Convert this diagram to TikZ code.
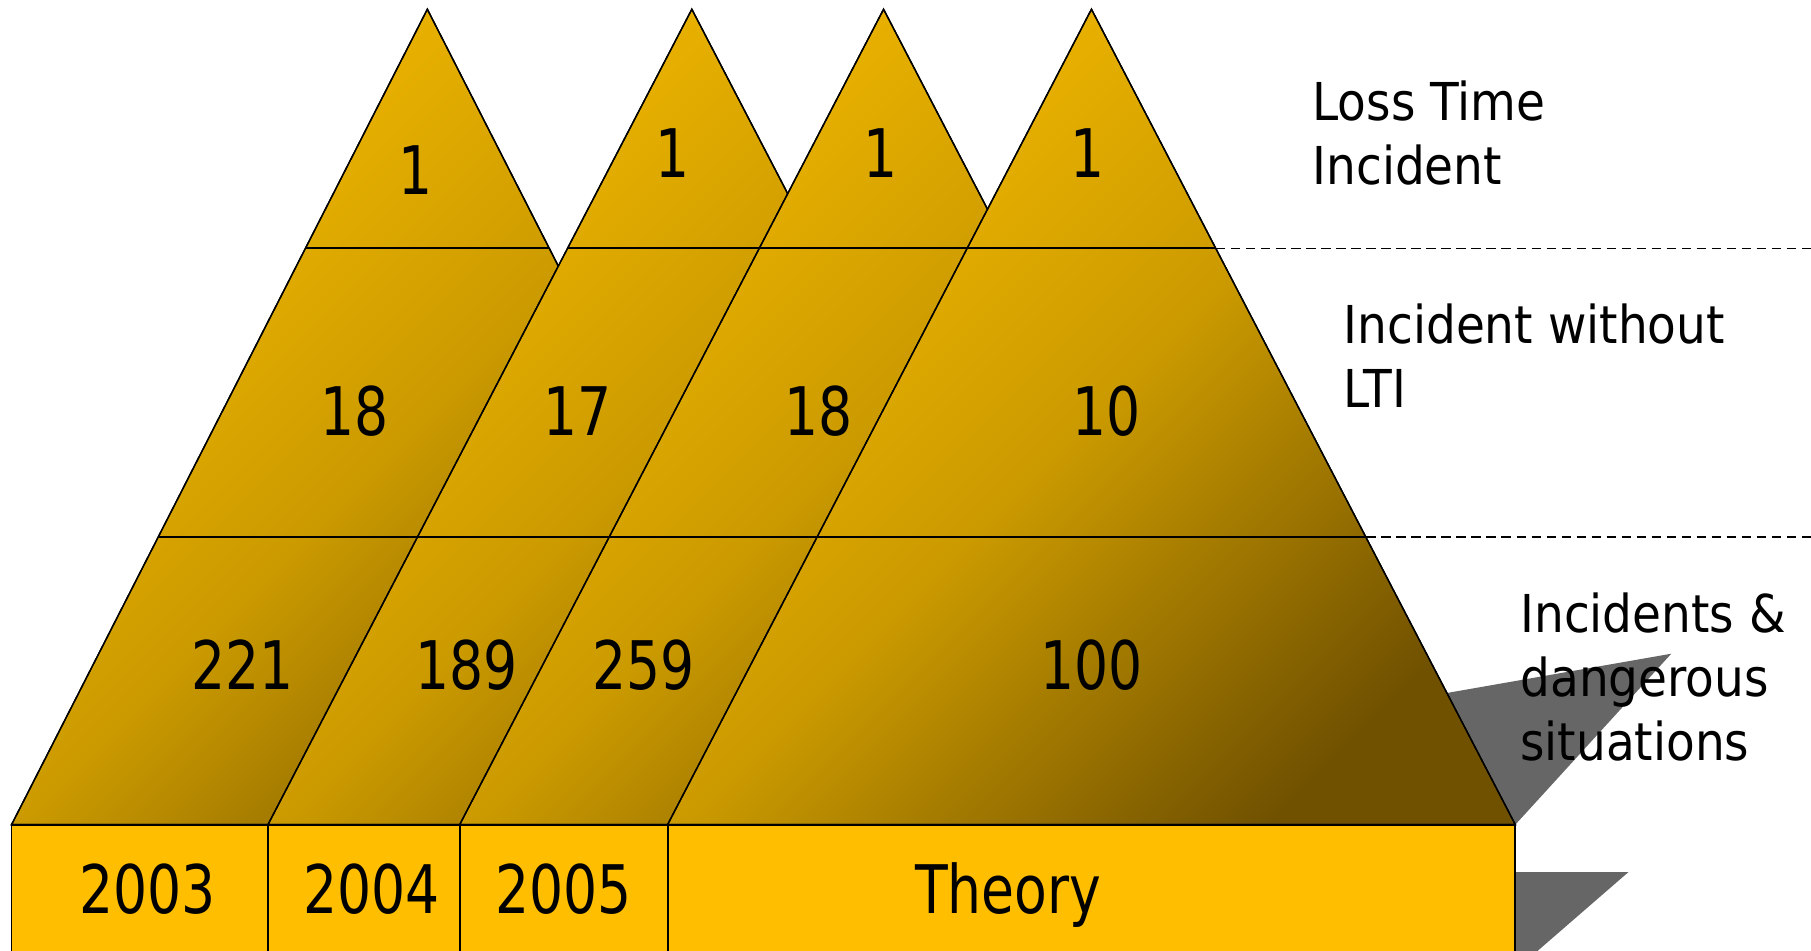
\documentclass[tikz,border=0pt]{standalone}
\usepackage{fontspec}
\setmainfont[FakeStretch=0.9]{DejaVu Sans}
\newfontfamily\numfont[FakeStretch=0.8]{DejaVu Sans}
\usepackage{tikz}
\usetikzlibrary{calc}
\usepackage{xcolor}
\definecolor{pyrlight}{HTML}{F4BA00}
\definecolor{pyrmid}{HTML}{CB9A00}
\definecolor{pyrdark}{HTML}{705100}
\definecolor{yearfill}{HTML}{FFBE00}
\definecolor{shadowgray}{HTML}{666666}

\begin{document}
\begin{tikzpicture}[
    x=0.5pt, y=-0.5pt,
    pyramid/.style={draw=black, line width=0.6pt, top color=pyrlight, bottom color=pyrdark, middle color=pyrmid, shading angle=45},
    yearbox/.style={draw=black, line width=0.8pt, fill=yearfill},
    bandline/.style={draw=black, line width=0.9pt},
    bandguide/.style={draw=black, line width=0.6pt, dash pattern=on 4pt off 2.5pt},
    shadowpoly/.style={fill=shadowgray, draw=none},
    tally/.style={font=\numfont\fontsize{29}{34}\selectfont, inner sep=0pt, anchor=base},
    sidetext/.style={font=\fontsize{22.6}{27.7}\selectfont, inner sep=0pt, anchor=north west, align=left}
]
    \useasboundingbox (0,0) rectangle (1568,823);
    \clip (0,0) rectangle (1568,823);

    % shadows behind the theory pyramid and box
    \fill[shadowpoly] (1150,618) -- (1447,566) -- (1312,714) -- cycle;
    \fill[shadowpoly] (1312,755) -- (1410,755) -- (1312,840) -- cycle;

    % one pyramid per year, the later ones on top
    \foreach \tip/\lft/\rgt in {370/10/730, 599/232/966, 765/398/1132, 945/578/1312}{
        \shade[pyramid] (\tip,8) -- (\rgt,714) -- (\lft,714) -- cycle;
        \begin{scope}
            \clip (\tip,8) -- (\rgt,714) -- (\lft,714) -- cycle;
            \draw[bandline] (\lft,215) -- (\rgt,215);
            \draw[bandline] (\lft,465) -- (\rgt,465);
        \end{scope}
        \draw[black, line width=0.6pt] (\tip,8) -- (\rgt,714) -- (\lft,714) -- cycle;
    }

    \coordinate (topband) at (1053,215);
    \coordinate (topend) at (1568,215);
    \coordinate (lowband) at (1183,465);
    \coordinate (lowend) at (1568,465);
    \draw[bandguide] (topband) -- (topend);
    \draw[bandguide] (lowband) -- (lowend);

    % year boxes
    \draw[yearbox] (10,714) rectangle (232,840);
    \draw[yearbox] (232,714) rectangle (398,840);
    \draw[yearbox] (398,714) rectangle (578,840);
    \draw[yearbox] (578,714) rectangle (1312,840);

    \node[tally] (y03) at (128,791) {2003};
    \node[tally] (y04) at (322,791) {2004};
    \node[tally] (y05) at (488,791) {2005};
    \node[tally] (yth) at (873,791) {Theory};

    \node[tally] (lti03) at (360,168) {1};
    \node[tally] (lti04) at (582,154) {1};
    \node[tally] (lti05) at (762,154) {1};
    \node[tally] (ltith) at (942,154) {1};

    \node[tally] (inc03) at (307,377) {18};
    \node[tally] (inc04) at (500,377) {17};
    \node[tally] (inc05) at (709,377) {18};
    \node[tally] (incth) at (958,377) {10};

    \node[tally] (dng03) at (210,597) {221};
    \node[tally] (dng04) at (404,597) {189};
    \node[tally] (dng05) at (557,597) {259};
    \node[tally] (dngth) at (945,597) {100};

    \node[sidetext] (losstime) at (1136,70) {Loss Time\\Incident};
    \node[sidetext] (nolti) at (1163,263) {Incident without\\LTI};
    \node[sidetext] (danger) at (1316,513) {Incidents \&\\dangerous\\situations};
\end{tikzpicture}
\end{document}
